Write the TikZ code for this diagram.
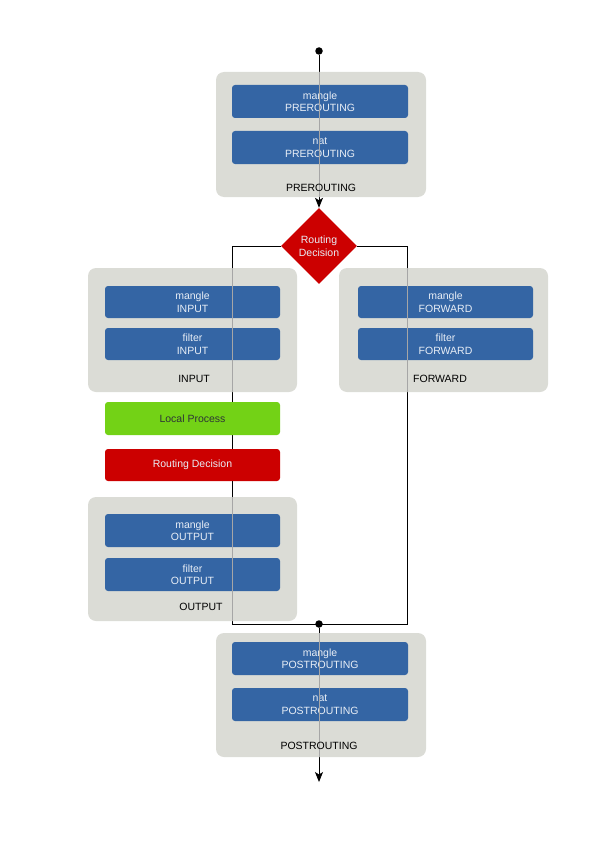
\documentclass[tikz,border=0pt]{standalone}
\usepackage{fontspec}
\setmainfont{Liberation Sans}
\usetikzlibrary{arrows.meta,shapes.geometric}
\definecolor{cgray}{HTML}{DBDCD6}
\definecolor{tblue}{HTML}{3465A4}
\definecolor{tgreen}{HTML}{73D216}
\definecolor{tred}{HTML}{CC0000}
\definecolor{lgray}{HTML}{A6A6A6}
\definecolor{btext}{HTML}{E8EEF6}
\definecolor{dtext}{HTML}{2E3436}
\begin{document}
\begin{tikzpicture}[x=1pt,y=-1pt,
  every node/.style={font=\fontsize{10.5}{12.5}\selectfont, inner sep=0pt, align=center},
  cont/.style={fill=cgray, rounded corners=8pt, minimum width=209, minimum height=124},
  chainbox/.style={fill=tblue, rounded corners=3pt, text=btext, minimum width=175, minimum height=33},
  greenbox/.style={fill=tgreen, rounded corners=3pt, text=dtext, minimum width=175, minimum height=33},
  redbox/.style={fill=tred, rounded corners=3pt, text=btext, minimum width=175, minimum height=32},
  decbox/.style={diamond, fill=tred, text=btext, minimum width=76, minimum height=76, aspect=1},
  lab/.style={text=black},
  conn/.style={draw=black, line width=0.9pt},
  gline/.style={draw=lgray, line width=0.9pt},
  dot/.style={circle, fill=black, minimum size=7.5pt},
  tip/.style={-{Stealth[length=10pt,width=8pt,inset=2.5pt]}}
]
\useasboundingbox (0,0) rectangle (600,848);

% anchor coordinates
\node[dot] (start) at (319,51) {};
\node[decbox] (dec) at (319,246) {Routing\\Decision};
\coordinate (cBL) at (232,624);
\coordinate (cBR) at (407,624);
\coordinate (endp) at (319,782);
\node[dot] (jn) at (319,624) {};

% connectors (behind)
\draw[conn,tip] (start) -- (dec.north);
\draw[conn] (dec.west) -| (cBL) -- (cBR) |- (dec.east);
\draw[conn,tip] (jn) -- (endp);

% containers
\node[cont, minimum width=210, minimum height=125] (pre) at (321,134.5) {};
\node[cont] (inp) at (192.5,330) {};
\node[cont] (fwd) at (443.5,330) {};
\node[cont] (out) at (192.5,559) {};
\node[cont, minimum width=210] (post) at (321,695) {};

% chain boxes
\node[chainbox, minimum width=176] (mpre) at (320,101.5) {mangle\\PREROUTING};
\node[chainbox, minimum width=176] (npre) at (320,147.5) {nat\\PREROUTING};
\node[chainbox, minimum height=32] (minp) at (192.5,302) {mangle\\INPUT};
\node[chainbox, minimum height=32] (finp) at (192.5,344) {filter\\INPUT};
\node[chainbox, minimum height=32] (mfwd) at (445.5,302) {mangle\\FORWARD};
\node[chainbox, minimum height=32] (ffwd) at (445.5,344) {filter\\FORWARD};
\node[greenbox] (local) at (192.5,418.5) {Local Process};
\node[redbox] (rdec) at (192.5,465) {Routing Decision};
\node[chainbox] (mout) at (192.5,530.5) {mangle\\OUTPUT};
\node[chainbox] (fout) at (192.5,574.5) {filter\\OUTPUT};
\node[chainbox, minimum width=176] (mpost) at (320,658.5) {mangle\\POSTROUTING};
\node[chainbox, minimum width=176] (npost) at (320,704.5) {nat\\POSTROUTING};

% lines through containers
\draw[gline] (pre.north -| start) -- (pre.south -| start);
\draw[gline] (inp.north -| cBL) -- (inp.south -| cBL);
\draw[gline] (fwd.north -| cBR) -- (fwd.south -| cBR);
\draw[gline] (out.north -| cBL) -- (out.south -| cBL);
\draw[gline] (post.north -| jn) -- (post.south -| jn);

% container labels
\node[lab] (lpre) at (321,188) {PREROUTING};
\node[lab] (linp) at (194,379) {INPUT};
\node[lab] (lfwd) at (440,379) {FORWARD};
\node[lab] (lout) at (201,607) {OUTPUT};
\node[lab] (lpost) at (319,746) {POSTROUTING};
\end{tikzpicture}
\end{document}
